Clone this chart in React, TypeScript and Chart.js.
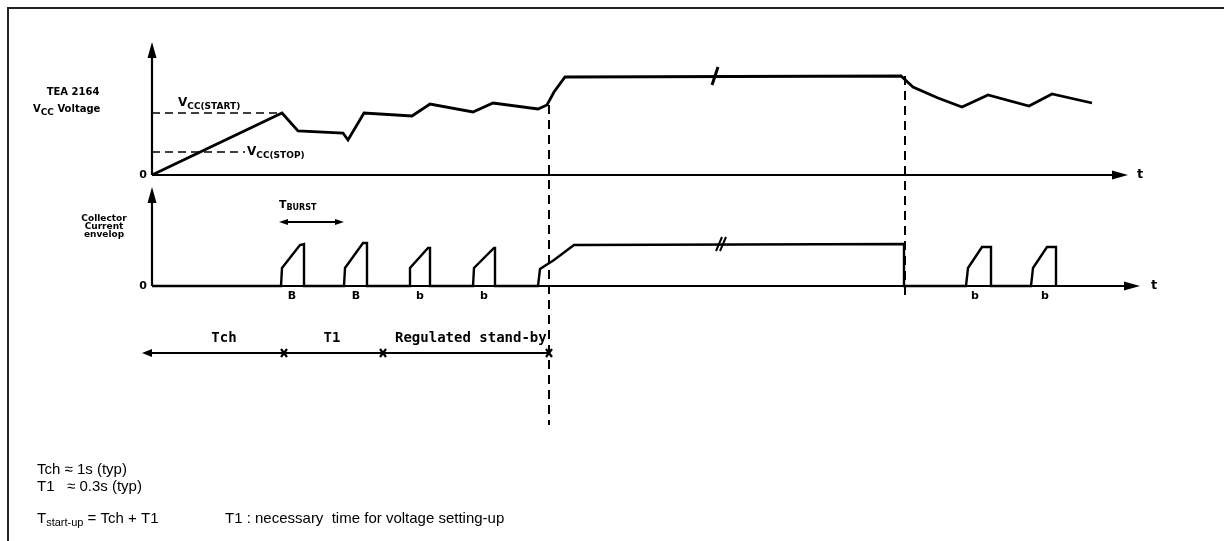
import React, { useEffect, useRef } from "react";
import { Chart, registerables } from "chart.js";
Chart.register(...registerables);

// Time axis: arbitrary units, 0 = origin of both panels
const voltageTime = [0, 130, 146, 191, 196, 212, 260, 278, 321, 341, 386, 395, 402, 413, 749, 761, 786, 810, 836, 877, 900, 940];
const voltageLevel = [0, 62, 44, 42, 35, 62, 59, 71, 63, 72, 66, 70, 83, 98, 99, 88, 77, 68, 80, 69, 81, 72];

const currentTime = [0, 129, 130, 148, 152, 152, 192, 193, 211, 215, 215, 257, 258, 276, 278, 278, 321, 322, 342, 343, 343, 386, 388, 402, 422, 752, 752, 814, 816, 830, 839, 839, 879, 881, 895, 904, 904];
const currentLevel = [0, 0, 18, 41, 42, 0, 0, 18, 43, 43, 0, 0, 18, 38, 38, 0, 0, 18, 38, 38, 0, 0, 17, 26, 41, 42, 0, 0, 18, 39, 39, 0, 0, 18, 39, 39, 0];

const vccStart = 62;
const vccStop = 23;
const vccStartEnd = 130;
const vccStopEnd = 93;
const standbyEnd = 397; // end of regulated stand-by (dashed line)
const burstEnd = 752; // end of full power (dashed line)
const axisEndV = 976;
const axisEndI = 988;
const axisTopV = 133;
const axisTopI = 99;

const phaseMarks = [-10, 132, 231, 397];
const phaseLabels = ["Tch", "T1", "Regulated stand-by"];
const burstLabels = ["B", "B", "b", "b", "b", "b"];
const burstLabelTimes = [140, 204, 268, 332, 823, 893];
const breakTimes = [563, 567];

const noteLines = ["Tch \u2248 1s (typ)", "T1   \u2248 0.3s (typ)"];
const noteStartup = ["T", "start-up", " = Tch + T1"];
const noteT1 = "T1 : necessary  time for voltage setting-up";

const LBL = "'DejaVu Sans'";

function arrowHead(ctx: CanvasRenderingContext2D, x: number, y: number, dir: "up" | "right" | "left", len = 14, hw = 5) {
  ctx.beginPath();
  if (dir === "up") {
    ctx.moveTo(x, y);
    ctx.lineTo(x - hw, y + len);
    ctx.lineTo(x + hw, y + len);
  } else if (dir === "right") {
    ctx.moveTo(x, y);
    ctx.lineTo(x - len, y - hw);
    ctx.lineTo(x - len, y + hw);
  } else {
    ctx.moveTo(x, y);
    ctx.lineTo(x + len, y - hw);
    ctx.lineTo(x + len, y + hw);
  }
  ctx.closePath();
  ctx.fill();
}

function subText(ctx: CanvasRenderingContext2D, x: number, y: number, main: string, sub: string, rest: string, mainFont: string, subFont: string, subDy: number) {
  ctx.textAlign = "left";
  ctx.textBaseline = "alphabetic";
  ctx.font = mainFont;
  ctx.fillText(main, x, y);
  let w = ctx.measureText(main).width;
  ctx.font = subFont;
  ctx.fillText(sub, x + w, y + subDy);
  w += ctx.measureText(sub).width;
  ctx.font = mainFont;
  ctx.fillText(rest, x + w, y);
}

const diagramPlugin = {
  id: "diagram",
  afterDatasetsDraw(chart: any) {
    const ctx: CanvasRenderingContext2D = chart.ctx;
    const X = (t: number) => chart.scales.x.getPixelForValue(t);
    const YV = (v: number) => chart.scales.yV.getPixelForValue(v);
    const YI = (v: number) => chart.scales.yI.getPixelForValue(v);
    ctx.save();
    ctx.fillStyle = "#000";
    ctx.strokeStyle = "#000";

    // frame
    ctx.lineWidth = 2;
    ctx.strokeStyle = "#222";
    ctx.beginPath();
    ctx.moveTo(8, 541);
    ctx.lineTo(8, 8);
    ctx.lineTo(1224, 8);
    ctx.stroke();
    ctx.strokeStyle = "#000";

    // axes
    ctx.lineWidth = 2.2;
    ctx.beginPath();
    ctx.moveTo(X(0), YV(0));
    ctx.lineTo(X(0), YV(axisTopV) + 10);
    ctx.moveTo(X(0), YV(0));
    ctx.lineTo(X(axisEndV) - 10, YV(0));
    ctx.moveTo(X(0), YI(0));
    ctx.lineTo(X(0), YI(axisTopI) + 10);
    ctx.moveTo(X(0), YI(0));
    ctx.lineTo(X(axisEndI) - 10, YI(0));
    ctx.stroke();
    arrowHead(ctx, X(0), YV(axisTopV), "up", 16, 4.5);
    arrowHead(ctx, X(axisEndV), YV(0), "right", 16, 4.5);
    arrowHead(ctx, X(0), YI(axisTopI), "up", 16, 4.5);
    arrowHead(ctx, X(axisEndI), YI(0), "right", 16, 4.5);

    // threshold dashed lines
    ctx.lineWidth = 1.6;
    ctx.setLineDash([8, 5]);
    ctx.beginPath();
    ctx.moveTo(X(0), YV(vccStart));
    ctx.lineTo(X(vccStartEnd), YV(vccStart));
    ctx.moveTo(X(0), YV(vccStop));
    ctx.lineTo(X(vccStopEnd), YV(vccStop));
    ctx.stroke();
    // vertical dashed markers
    ctx.lineWidth = 2;
    ctx.setLineDash([9, 6]);
    ctx.beginPath();
    ctx.moveTo(X(standbyEnd), YV(70));
    ctx.lineTo(X(standbyEnd), YI(-139));
    ctx.moveTo(X(burstEnd) + 1, YV(99));
    ctx.lineTo(X(burstEnd) + 1, YI(-14));
    ctx.stroke();
    ctx.setLineDash([]);

    // break marks
    ctx.lineWidth = 3;
    ctx.beginPath();
    ctx.moveTo(X(breakTimes[0]) - 3, YV(99) + 9);
    ctx.lineTo(X(breakTimes[0]) + 3, YV(99) - 9);
    ctx.stroke();
    ctx.lineWidth = 2;
    ctx.beginPath();
    ctx.moveTo(X(breakTimes[1]) - 3, YI(42) + 7);
    ctx.lineTo(X(breakTimes[1]) + 3, YI(42) - 7);
    ctx.moveTo(X(breakTimes[1]) + 1, YI(42) + 7);
    ctx.lineTo(X(breakTimes[1]) + 7, YI(42) - 7);
    ctx.stroke();

    // labels near axes
    ctx.textBaseline = "middle";
    ctx.textAlign = "center";
    ctx.font = `bold 11px ${LBL}`;
    ctx.fillText("0", X(0) - 9, YV(0));
    ctx.fillText("0", X(0) - 9, YI(0));
    ctx.font = `bold 13px ${LBL}`;
    ctx.fillText("t", X(axisEndV) + 12, YV(0));
    ctx.fillText("t", X(axisEndI) + 14, YI(0));

    ctx.font = `bold 10px ${LBL}`;
    ctx.textAlign = "center";
    ctx.fillText("TEA 2164", X(-79), YV(83));
    subText(ctx, X(-119), YV(62) - 1, "V", "CC", " Voltage", `bold 10px ${LBL}`, `bold 9px ${LBL}`, 3);
    subText(ctx, X(26), YV(71) + 2, "V", "CC(START)", "", `bold 12px ${LBL}`, `bold 9px ${LBL}`, 3);
    subText(ctx, X(95), YV(vccStop) + 3, "V", "CC(STOP)", "", `bold 12px ${LBL}`, `bold 9px ${LBL}`, 3);

    ctx.textAlign = "center";
    ctx.font = `bold 9px ${LBL}`;
    ctx.fillText("Collector", X(-48), YI(65));
    ctx.fillText("Current", X(-48), YI(57));
    ctx.fillText("envelop", X(-48), YI(49));

    // T burst
    subText(ctx, X(127), YI(78), "T", "BURST", "", `bold 11px ${LBL}`, `bold 8px ${LBL}`, 2);
    ctx.lineWidth = 1.8;
    ctx.beginPath();
    ctx.moveTo(X(133), YI(64));
    ctx.lineTo(X(186), YI(64));
    ctx.stroke();
    arrowHead(ctx, X(127), YI(64), "left", 9, 3);
    arrowHead(ctx, X(192), YI(64), "right", 9, 3);

    ctx.font = `bold 11px ${LBL}`;
    ctx.textAlign = "center";
    burstLabels.forEach((l, i) => ctx.fillText(l, X(burstLabelTimes[i]), YI(-13)));

    // phase timeline
    const yT = YI(-67);
    ctx.lineWidth = 2;
    ctx.beginPath();
    ctx.moveTo(X(phaseMarks[0]) + 6, yT);
    ctx.lineTo(X(phaseMarks[3]), yT);
    ctx.stroke();
    arrowHead(ctx, X(phaseMarks[0]), yT, "left", 10, 4);
    ctx.lineWidth = 2.2;
    for (let k = 1; k < phaseMarks.length; k++) {
      const px = X(phaseMarks[k]);
      ctx.beginPath();
      ctx.moveTo(px - 3, yT - 4);
      ctx.lineTo(px + 3, yT + 4);
      ctx.moveTo(px + 3, yT - 4);
      ctx.lineTo(px - 3, yT + 4);
      ctx.stroke();
    }
    ctx.font = "bold 14px 'DejaVu Sans Mono'";
    ctx.textBaseline = "alphabetic";
    ctx.textAlign = "center";
    ctx.fillText(phaseLabels[0], X(72), yT - 11);
    ctx.fillText(phaseLabels[1], X(180), yT - 11);
    ctx.textAlign = "left";
    ctx.fillText(phaseLabels[2], X(243), yT - 11);

    // notes
    ctx.font = "15px 'Liberation Sans'";
    ctx.textAlign = "left";
    ctx.fillText(noteLines[0], 37, 474);
    ctx.fillText(noteLines[1], 37, 491);
    subText(ctx, 37, 523, noteStartup[0], noteStartup[1], noteStartup[2], "15px 'Liberation Sans'", "11px 'Liberation Sans'", 3);
    ctx.font = "15px 'Liberation Sans'";
    ctx.fillText(noteT1, 225, 523);

    ctx.restore();
  },
};

export default function App() {
  const ref = useRef<HTMLCanvasElement>(null);
  useEffect(() => {
    document.body.style.margin = "0";
    const canvas = ref.current!;
    const chart = new Chart(canvas, {
      type: "line",
      data: {
        datasets: [
          {
            label: "VCC voltage",
            data: voltageTime.map((t, i) => ({ x: t, y: voltageLevel[i] })),
            yAxisID: "yV",
            borderColor: "#000",
            borderWidth: 2.8,
            pointRadius: 0,
            tension: 0,
            fill: false,
          },
          {
            label: "Collector current envelop",
            data: currentTime.map((t, i) => ({ x: t, y: currentLevel[i] })),
            yAxisID: "yI",
            borderColor: "#000",
            borderWidth: 2.4,
            pointRadius: 0,
            tension: 0,
            fill: false,
          },
        ],
      },
      options: {
        responsive: false,
        animation: false,
        devicePixelRatio: 1,
        layout: { padding: 0 },
        plugins: { legend: { display: false }, tooltip: { enabled: false }, title: { display: false } },
        scales: {
          x: { type: "linear", min: -152, max: 1072, display: false },
          yV: { type: "linear", min: -366, max: 175, display: false },
          yI: { type: "linear", min: -255, max: 286, display: false },
        },
      },
      plugins: [diagramPlugin],
    });
    return () => chart.destroy();
  }, []);
  return (
    <div style={{ width: 1224, height: 541, background: "#fff" }}>
      <canvas ref={ref} width={1224} height={541} style={{ display: "block" }} />
    </div>
  );
}
